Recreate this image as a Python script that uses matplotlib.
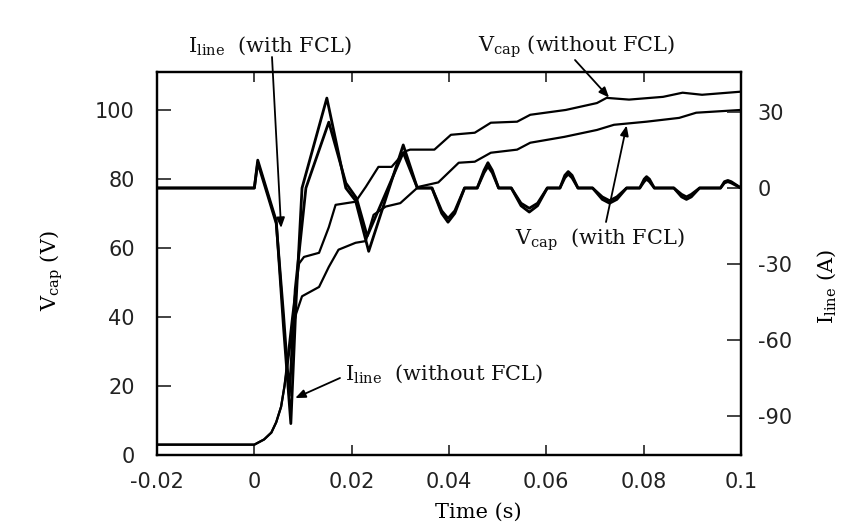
import matplotlib
matplotlib.use("Agg")
import matplotlib.pyplot as plt

# ---- data ----
t_vcap_without = [-0.02, 0.0, 0.002, 0.0035, 0.0045, 0.0055, 0.0062, 0.007, 0.0078, 0.0085,
                  0.0092, 0.0102, 0.0133, 0.0153, 0.0167, 0.0208, 0.0229, 0.0255, 0.0282,
                  0.031, 0.032, 0.037, 0.0404, 0.0453, 0.0486, 0.054, 0.0567, 0.064, 0.0704,
                  0.0724, 0.077, 0.084, 0.088, 0.092, 0.1]
vcap_without = [3, 3, 4.5, 6.5, 9.5, 14, 20, 30, 40, 48,
                55.5, 57.4, 58.6, 66, 72.5, 73.4, 77.7, 83.5, 83.5,
                88, 88.5, 88.5, 92.8, 93.4, 96.3, 96.6, 98.6, 100, 102,
                103.5, 103, 103.8, 105, 104.4, 105.3]

t_vcap_with = [-0.02, 0.0, 0.002, 0.0035, 0.0045, 0.0055, 0.0062, 0.007, 0.0078, 0.0086,
               0.0098, 0.0133, 0.0153, 0.0173, 0.0208, 0.0229, 0.0245, 0.027, 0.030,
               0.0337, 0.0378, 0.042, 0.0453, 0.0486, 0.054, 0.0567, 0.0637, 0.0704,
               0.0739, 0.0806, 0.0873, 0.0908, 0.1]
vcap_with = [3, 3, 4.5, 6.5, 9.5, 14, 20, 28, 36, 41,
             46, 48.7, 54.5, 59.5, 61.5, 62, 69.6, 72, 73,
             77.7, 79, 84.7, 85, 87.6, 88.5, 90.5, 92.2, 94.2,
             95.7, 96.6, 97.7, 99.2, 100]

t_iline_without = [-0.02, 0.0, 0.0007, 0.0045, 0.006, 0.0075, 0.0086, 0.0098, 0.0149,
                   0.0188, 0.0208, 0.0235, 0.0306, 0.0335, 0.0365, 0.0385, 0.0398, 0.0412,
                   0.0432, 0.0458, 0.0472, 0.048, 0.0489, 0.0502, 0.0528, 0.0548, 0.0565,
                   0.0582, 0.0602, 0.0628, 0.0638, 0.0645, 0.0653, 0.0665, 0.0695, 0.0715,
                   0.073, 0.0745, 0.0765, 0.0792, 0.0801, 0.0806, 0.0812, 0.0822, 0.0862,
                   0.0878, 0.0888, 0.0898, 0.0915, 0.0958, 0.0966, 0.0973, 0.098, 0.1]
iline_without = [0, 0, 11, -13, -55, -93, -44, 0, 35.5,
                 0, -5, -25, 17, 0, 0, -10, -13.5, -10,
                 0, 0, 7, 10, 7, 0, 0, -7, -9.5,
                 -7, 0, 0, 5, 6.5, 5, 0, 0, -4.5,
                 -6, -4.5, 0, 0, 3.5, 4.5, 3.5, 0, 0,
                 -3.5, -4.5, -3.5, 0, 0, 2.5, 3, 2.5, 0]

t_iline_with = [-0.02, 0.0, 0.0007, 0.0045, 0.006, 0.0072, 0.0084, 0.0106, 0.0153,
                0.0188, 0.021, 0.0232, 0.0306, 0.0335, 0.0365, 0.0385, 0.0398, 0.0412,
                0.0432, 0.0458, 0.0472, 0.048, 0.0489, 0.0502, 0.0528, 0.0548, 0.0565,
                0.0582, 0.0602, 0.0628, 0.0638, 0.0645, 0.0653, 0.0665, 0.0695, 0.0715,
                0.073, 0.0745, 0.0765, 0.0792, 0.0801, 0.0806, 0.0812, 0.0822, 0.0862,
                0.0878, 0.0888, 0.0898, 0.0915, 0.0958, 0.0966, 0.0973, 0.098, 0.1]
iline_with = [0, 0, 10, -14, -50, -82, -40, 0, 26,
              2, -4, -19, 14, 0, 0, -9, -12, -9,
              0, 0, 6, 8.5, 6, 0, 0, -6, -8,
              -6, 0, 0, 4, 5.5, 4, 0, 0, -3.5,
              -5, -3.5, 0, 0, 2.5, 3.5, 2.5, 0, 0,
              -2.5, -3.5, -2.5, 0, 0, 2, 2.5, 2, 0]

xticks = [-0.02, 0.0, 0.02, 0.04, 0.06, 0.08, 0.1]
xticklabels = ["-0.02", "0", "0.02", "0.04", "0.06", "0.08", "0.1"]
vticks = [0, 20, 40, 60, 80, 100]
iticks = [-90, -60, -30, 0, 30]

serif = ["DejaVu Serif"]
plt.rcParams["font.family"] = ["DejaVu Sans"]
plt.rcParams["mathtext.default"] = "regular"
plt.rcParams["axes.unicode_minus"] = False

fig = plt.figure(figsize=(8.51, 5.29), dpi=100)
ax = fig.add_axes([0.1845, 0.1399, 0.6862, 0.724])
ax2 = ax.twinx()

lw = 1.6
ax.plot(t_vcap_without, vcap_without, color="black", lw=lw)
ax.plot(t_vcap_with, vcap_with, color="black", lw=lw)
ax2.plot(t_iline_without, iline_without, color="black", lw=lw + 0.4)
ax2.plot(t_iline_with, iline_with, color="black", lw=lw + 0.4)

ax.set_xlim(-0.02, 0.1)
ax.set_ylim(0, 111)
ax2.set_ylim(-105.4, 45.8)

ax.set_xticks(xticks)
ax.set_xticklabels(xticklabels)
ax.set_yticks(vticks)
ax2.set_yticks(iticks)

ax.tick_params(axis="x", direction="in", top=True, bottom=True, length=7, width=1.2,
               labelsize=15, pad=12, colors="#222222")
ax.tick_params(axis="y", direction="in", left=True, right=False, length=10, width=1.2,
               labelsize=15, pad=16, colors="#222222")
ax2.tick_params(axis="y", direction="in", right=True, length=10, width=1.2,
                labelsize=15, pad=12, colors="#222222")
for a in (ax, ax2):
    for s in a.spines.values():
        s.set_linewidth(1.6)

ax.set_xlabel("Time (s)", family=serif, fontsize=15)
ax.xaxis.set_label_coords(0.551, -0.125)
ax.set_ylabel(r"V$_{cap}$ (V)", family=serif, fontsize=15)
ax.yaxis.set_label_coords(-0.157, 0.48)
ax2.set_ylabel(r"I$_{line}$ (A)", family=serif, fontsize=15, rotation=90)
ax2.yaxis.set_label_coords(1.127, 0.44)

W, H = 851.0, 529.0
def fp(x, y):
    return (x / W, 1 - y / H)

txt_kw = dict(family=serif, fontsize=15, color="#111111")
fig.text(*fp(188, 52), r"I$_{line}$  (with FCL)", ha="left", va="baseline", **txt_kw)
fig.text(*fp(478, 52), r"V$_{cap}$ (without FCL)", ha="left", va="baseline", **txt_kw)
fig.text(*fp(515, 245), r"V$_{cap}$  (with FCL)", ha="left", va="baseline", **txt_kw)
fig.text(*fp(345, 380), r"I$_{line}$  (without FCL)", ha="left", va="baseline", **txt_kw)

arrow = dict(arrowstyle="-|>,head_length=0.6,head_width=0.25", color="black", lw=1.3,
             shrinkA=0, shrinkB=0)
ax.annotate("", xy=(0.0055, 65.8), xycoords="data", xytext=fp(272, 57),
            textcoords="figure fraction", arrowprops=arrow, annotation_clip=False)
ax.annotate("", xy=(0.0729, 103.6), xycoords="data", xytext=fp(575, 60),
            textcoords="figure fraction", arrowprops=arrow, annotation_clip=False)
ax.annotate("", xy=(0.0765, 95.5), xycoords="data", xytext=fp(606, 222),
            textcoords="figure fraction", arrowprops=arrow, annotation_clip=False)
ax.annotate("", xy=(0.0084, 16.5), xycoords="data", xytext=fp(340, 378),
            textcoords="figure fraction", arrowprops=arrow, annotation_clip=False)

fig.savefig("out.png", dpi=100, facecolor="white")
